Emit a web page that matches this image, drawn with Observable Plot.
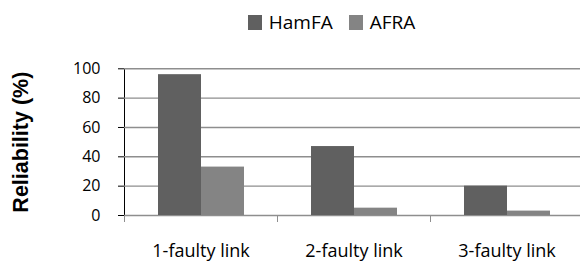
<!DOCTYPE html>
<html><head><meta charset="utf-8">
<script src="https://cdn.jsdelivr.net/npm/d3@7"></script>
<script src="https://cdn.jsdelivr.net/npm/@observablehq/plot@0.6"></script>
<style>
body{margin:0;background:#fff;width:580px;height:261px;overflow:hidden;}
#legend{height:40px;box-sizing:border-box;padding-top:4px;padding-left:83px;display:flex;justify-content:center;align-items:center;font-family:"Open Sans",sans-serif;font-size:19px;color:#000;}
#legend .item{display:flex;align-items:center;margin:0 8px;}
#legend .sw{width:14px;height:15px;margin-right:7px;}
g[aria-label="fx-axis tick label"]{font-size:18px;}
g[aria-label="y-axis label"]{font-family:"Liberation Sans",sans-serif;font-weight:bold;font-size:21.5px;}
g[aria-label="y-axis tick"]{stroke:#8e8e8e;}
g[aria-label="y-axis line"]{stroke:#8e8e8e;}
</style></head><body>
<div id="legend"></div>
<div id="chart"></div>
<script>
const categories = ["1-faulty link", "2-faulty link", "3-faulty link"];
const seriesNames = ["HamFA", "AFRA"];
const hamfa = [96, 47, 20];
const afra = [33, 5, 3];
const yTicks = [0, 20, 40, 60, 80, 100];
const yLabel = "Reliability (%)";
const colors = ["#606060", "#848484"];

const data = categories.flatMap((c, i) => [
  {cat: c, series: seriesNames[0], value: hamfa[i]},
  {cat: c, series: seriesNames[1], value: afra[i]}
]);

const legend = document.getElementById("legend");
seriesNames.forEach((s, i) => {
  const item = document.createElement("div");
  item.className = "item";
  const sw = document.createElement("span");
  sw.className = "sw";
  sw.style.background = colors[i];
  const t = document.createElement("span");
  t.textContent = s;
  item.appendChild(sw); item.appendChild(t);
  legend.appendChild(item);
});

const W = 580, H = 221, mT = 28.3, mB = 46;
const chart = Plot.plot({
  width: W, height: H,
  marginLeft: 124, marginRight: -3, marginTop: mT, marginBottom: mB,
  style: {fontFamily: "'Open Sans', sans-serif", fontSize: "16px", color: "#000", background: "#fff", overflow: "hidden"},
  fx: {domain: categories, padding: 0, axis: "bottom", tickSize: 0, tickPadding: 29, label: null},
  x: {domain: seriesNames, paddingInner: 0, paddingOuter: 0.74, axis: null},
  y: {domain: [0, 100], ticks: yTicks, tickSize: 6, tickPadding: 18, label: yLabel, labelAnchor: "center", labelOffset: 112, line: true},
  color: {domain: seriesNames, range: colors},
  marks: [
    Plot.ruleY(yTicks, {stroke: "#8e8e8e", strokeWidth: 1.4}),
    Plot.frame({anchor: "left", insetTop: H - mT - mB, insetBottom: -6, stroke: "#8e8e8e"}),
    Plot.barY(data, {fx: "cat", x: "series", y: "value", fill: "series"})
  ]
});
chart.querySelectorAll('g[aria-label="y-axis label"] text').forEach(t => { t.textContent = yLabel; });
document.getElementById("chart").appendChild(chart);
</script>
</body></html>
